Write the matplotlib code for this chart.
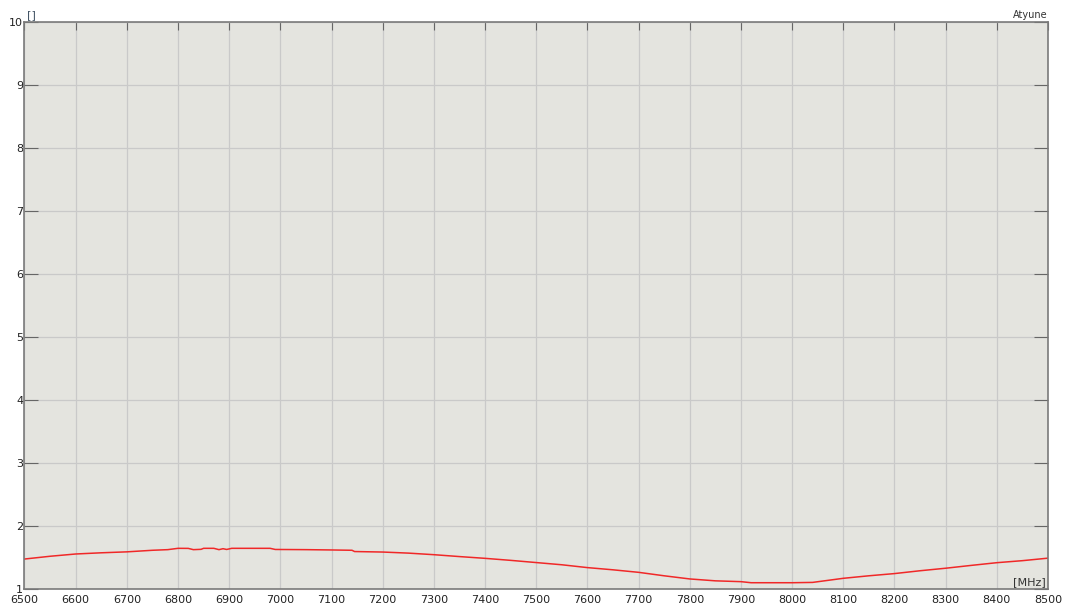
import matplotlib
matplotlib.use("Agg")
from matplotlib import pyplot as plt
import numpy as np

# frequency sweep [MHz] and Atyune values
freq = [6500, 6550, 6600, 6650, 6700, 6720, 6750, 6780, 6800, 6820, 6830, 6845,
        6850, 6870, 6880, 6888, 6895, 6905, 6980, 6990, 7050, 7100, 7140, 7145,
        7200, 7250, 7300, 7350, 7400, 7450, 7500, 7550, 7600, 7650, 7700, 7750,
        7800, 7850, 7900, 7920, 8000, 8040, 8100, 8150, 8200, 8250, 8300, 8350,
        8400, 8450, 8500]
atyune = [1.476, 1.52, 1.556, 1.575, 1.59, 1.60, 1.615, 1.625, 1.646, 1.645, 1.625, 1.63,
          1.646, 1.646, 1.625, 1.64, 1.628, 1.646, 1.646, 1.628, 1.625, 1.62, 1.615, 1.595,
          1.587, 1.57, 1.545, 1.515, 1.487, 1.455, 1.42, 1.385, 1.34, 1.305, 1.265, 1.21,
          1.16, 1.13, 1.117, 1.10, 1.10, 1.105, 1.17, 1.21, 1.245, 1.29, 1.33, 1.375,
          1.418, 1.45, 1.49]

xticks = list(range(6500, 8501, 100))
yticks = list(range(1, 11))

fig = plt.figure(figsize=(10.65, 6.09), dpi=100)
ax = fig.add_axes([0.023, 0.0328, 0.961, 0.9311])
ax.set_facecolor("#e4e4df")

ax.plot(freq, atyune, color="#f02828", lw=1.1)

ax.set_xlim(6500, 8500)
ax.set_ylim(1, 10)
ax.set_xticks(xticks)
ax.set_yticks(yticks)
ax.grid(True, color="#c9c9c9", lw=0.9)
ax.set_axisbelow(True)

for s in ax.spines.values():
    s.set_color("#7a7a7a")
    s.set_linewidth(1.2)

ax.tick_params(axis="x", which="both", direction="in", top=True, bottom=False,
               labelbottom=True, length=6, color="#666666", labelsize=8,
               labelcolor="#222222", pad=4)
ax.tick_params(axis="y", which="both", direction="in", left=True, right=True,
               length=10, color="#666666", labelsize=8, labelcolor="#222222", pad=1)

fig.text(0.0255, 0.967, "[]", fontsize=8, color="#445566", ha="left", va="bottom")
fig.text(0.984, 0.967, "Atyune", fontsize=7, color="#333333", ha="right", va="bottom")
ax.text(0.998, 0.003, "[MHz]", transform=ax.transAxes, fontsize=8, color="#333333",
        ha="right", va="bottom")

fig.savefig("out.png", dpi=100)
